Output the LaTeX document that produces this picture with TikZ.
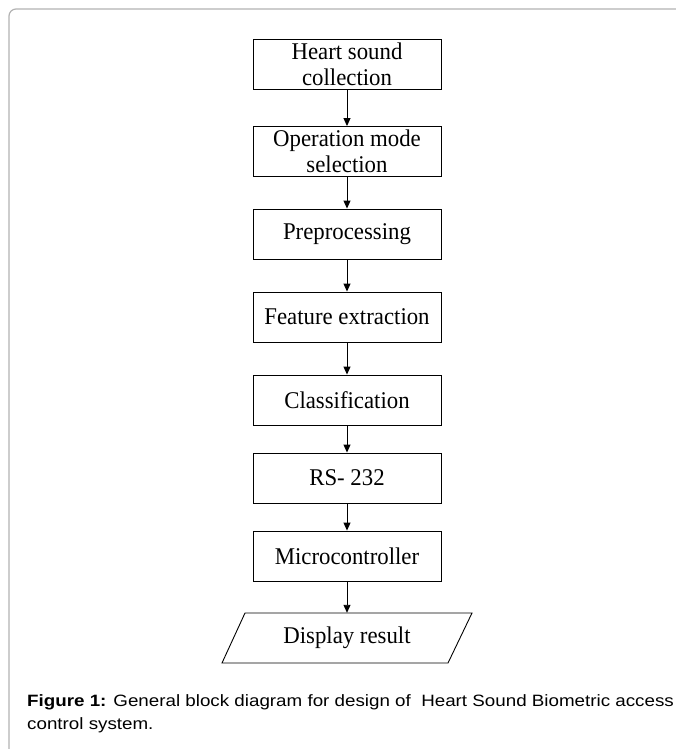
\documentclass[tikz,border=0pt]{standalone}
\usepackage{fontspec}
\setmainfont{Liberation Serif}
\newfontfamily\boxfont[FakeStretch=0.95]{Liberation Serif}
\newfontfamily\capfont[FakeStretch=1.145]{Liberation Sans}
\usetikzlibrary{arrows.meta,calc}

\tikzset{
  block/.style={draw, line width=0.9pt, rectangle, minimum width=188pt,
    minimum height=50pt, inner sep=0pt, align=center,
    font=\boxfont\fontsize{24}{26}\selectfont},
  plainbox/.style={rectangle, minimum width=188pt, minimum height=50pt,
    inner sep=0pt, align=center, font=\boxfont\fontsize{24}{26}\selectfont},
  flow/.style={line width=0.9pt, -{Triangle[length=8pt,width=7pt]}},
  frameline/.style={draw=black!30, line width=1.2pt, rounded corners=7pt},
  captext/.style={anchor=base west, inner sep=0pt,
    font=\capfont\fontsize{16.4}{18}\selectfont}
}

\begin{document}
\begin{tikzpicture}[x=1pt, y=-1pt]
  \useasboundingbox (0,0) rectangle (676,749);

  % outer figure frame
  \draw[frameline] (9,770) -- (9,9) -- (700,9);

  % processing chain
  \node[block] (collect)  at (347,64)    {Heart sound\\collection};
  \node[block] (mode)     at (347,151.5) {Operation mode\\selection};
  \node[block] (prep)     at (347,234)   {Preprocessing};
  \node[block] (feat)     at (347,317)   {Feature extraction};
  \node[block] (classify) at (347,400)   {Classification};
  \node[block] (rs)       at (347,478)   {RS- 232};
  \node[block] (mcu)      at (347,556)   {Microcontroller};
  \node[plainbox] (disp)  at (347,638)   {Display result};

  % output parallelogram around the display node
  \draw[line width=0.9pt]
    ($(disp.center)+(-102,-25)$) coordinate (dtl)
    -- ($(disp.center)+(125,-25)$) coordinate (dtr)
    -- ($(disp.center)+(101,25)$) coordinate (dbr)
    -- ($(disp.center)+(-125,25)$) coordinate (dbl)
    -- cycle;

  \draw[flow] (collect) -- (mode);
  \draw[flow] (mode) -- (prep);
  \draw[flow] (prep) -- (feat);
  \draw[flow] (feat) -- (classify);
  \draw[flow] (classify) -- (rs);
  \draw[flow] (rs) -- (mcu);
  \draw[flow] (mcu) -- (disp);

  % caption
  \node[captext] (cap1) at (27,706.5)
    {\textbf{Figure 1:} General block diagram for design of\ \ Heart Sound Biometric access};
  \node[captext] (cap2) at (27,729) {control system.};
\end{tikzpicture}
\end{document}
